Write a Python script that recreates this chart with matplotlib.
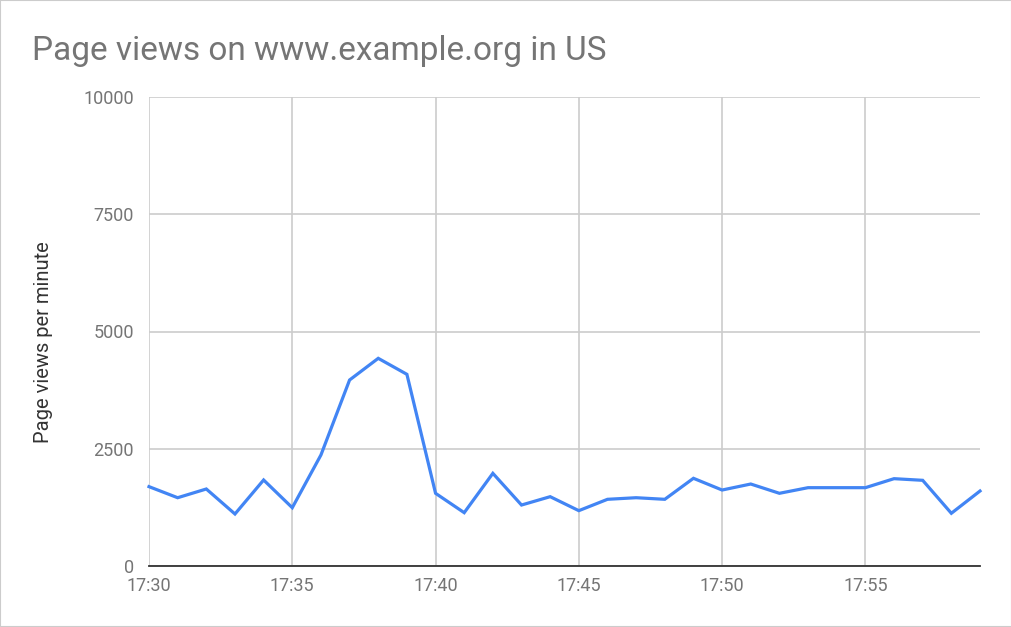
import numpy as np
import matplotlib
matplotlib.use('Agg')
from matplotlib import pyplot as plt
from matplotlib.patches import Rectangle

plt.rcParams['font.family'] = ['Roboto', 'DejaVu Sans']

minutes = list(range(30))
views = [1692, 1456, 1642, 1109, 1834, 1243, 2367, 3966, 4428, 4087,
         1550, 1137, 1976, 1300, 1478, 1180, 1422, 1456, 1422, 1870,
         1620, 1748, 1550, 1670, 1670, 1670, 1862, 1827, 1124, 1599]
xtick_pos = [0, 5, 10, 15, 20, 25]
xtick_labels = ['17:30', '17:35', '17:40', '17:45', '17:50', '17:55']
ytick_pos = [0, 2500, 5000, 7500, 10000]

W, H = 1012, 627
fig = plt.figure(figsize=(W / 100, H / 100), dpi=100)
ax = fig.add_axes([149 / W, 1 - 566 / H, (980 - 149) / W, (566 - 97) / H])

ax.plot(minutes, views, color='#4285F4', lw=2.3, solid_joinstyle='miter', clip_on=False)

ax.set_xlim(0, 29)
ax.set_ylim(0, 10000)
ax.set_xticks(xtick_pos)
ax.set_xticklabels(xtick_labels)
ax.set_yticks(ytick_pos)
ax.set_yticklabels([str(v) for v in ytick_pos])
ax.grid(True, color='#cccccc', lw=1.2)
ax.set_axisbelow(True)
for s in ['top', 'right', 'left']:
    ax.spines[s].set_visible(False)
ax.spines['bottom'].set_color('#333333')
ax.spines['bottom'].set_linewidth(1.3)
ax.tick_params(length=0, labelsize=13, labelcolor='#757575')
ax.tick_params(axis='x', pad=8)
ax.tick_params(axis='y', pad=11)

ax.set_ylabel('Page views per minute', fontsize=14.5, color='#333333')
ax.yaxis.set_label_coords(-(149 - 53) / (980 - 149), (566 - 342) / (566 - 97))

fig.text(32 / W, 1 - 60 / H, 'Page views on www.example.org in US',
         fontsize=24, color='#757575', ha='left', va='baseline')

fig.patches.append(Rectangle((0, 0), 1, 1, transform=fig.transFigure,
                             fill=False, edgecolor='#cccccc', lw=1.5))

fig.savefig('out.png', dpi=100)
